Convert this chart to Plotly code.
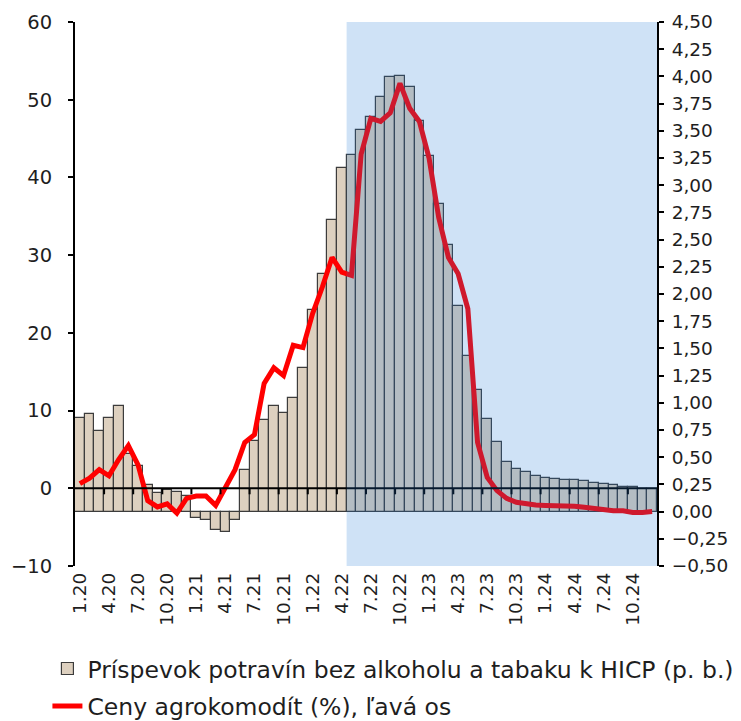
import plotly.graph_objects as go

# Months Jan 2020 .. Dec 2024
months = [f"{m}.{y}" for y in range(20, 25) for m in range(1, 13)]
tick_labels = months[::3]

# Contribution of food (excl. alcohol & tobacco) to HICP, p.p. (right axis)
food_contrib = [
    0.86, 0.90, 0.74, 0.86, 0.97, 0.53, 0.42, 0.24, 0.17, 0.20,
    0.18, 0.14, -0.06, -0.08, -0.17, -0.19, -0.08, 0.38, 0.65, 0.84,
    0.97, 0.91, 1.04, 1.32, 1.85, 2.18, 2.68, 3.16, 3.28, 3.51,
    3.63, 3.81, 3.99, 4.00, 3.90, 3.59, 3.27, 2.83, 2.45, 1.89,
    1.43, 1.12, 0.85, 0.64, 0.46, 0.39, 0.36, 0.33, 0.31, 0.30,
    0.29, 0.29, 0.28, 0.26, 0.25, 0.24, 0.23, 0.23, 0.21, 0.21,
]

# Agricultural commodity prices, % (left axis)
agro_prices = [
    0.6, 1.3, 2.4, 1.6, 3.7, 5.5, 3.0, -1.6, -2.4, -2.0,
    -3.2, -1.3, -1.0, -1.0, -2.2, 0.2, 2.4, 5.9, 6.9, 13.5,
    15.5, 14.5, 18.4, 18.1, 22.5, 25.9, 29.7, 27.8, 27.4, 43.0,
    47.6, 47.2, 48.3, 52.1, 48.9, 47.2, 42.5, 34.8, 29.7, 27.6,
    23.1, 5.9, 1.4, -0.3, -1.3, -1.8, -2.0, -2.15, -2.2, -2.2,
    -2.2, -2.3, -2.45, -2.65, -2.8, -2.9, -2.9, -3.1, -3.1, -3.0,
]

# Highlighted period starts with May 2022
highlight_start = "5.22"

right_ticks = [x / 4 for x in range(-2, 19)]

font_family = "DejaVu Sans"
text_color = "#1e1e1e"
n = len(months)

fig = go.Figure()

fig.add_trace(go.Bar(
    x=months, y=food_contrib, yaxis="y",
    name="Príspevok potravín bez alkoholu a tabaku k HICP (p. b.)",
    marker=dict(color="rgb(221,208,191)", line=dict(color="#3c3c3c", width=1.2)),
    legendgroup="a",
))

fig.add_trace(go.Scatter(
    x=months, y=agro_prices, yaxis="y2", mode="lines",
    name="Ceny agrokomodít (%), ľavá os",
    line=dict(color="#ff0000", width=5),
    legendgroup="b",
))

# zero line of the left axis, drawn over the bars
fig.add_shape(
    type="line", xref="paper", yref="y2", x0=0, x1=1, y0=0, y1=0,
    line=dict(color="black", width=2), layer="above",
)
# quarterly tick marks on the zero line, between categories
for k in range(3, n, 3):
    fig.add_shape(
        type="line", xref="x", yref="y2", ysizemode="pixel", yanchor=0,
        x0=k - 0.5, x1=k - 0.5, y0=0, y1=-6,
        line=dict(color="black", width=2), layer="above",
    )

hl = months.index(highlight_start)
fig.add_shape(
    type="rect", xref="x", yref="paper",
    x0=hl - 0.5, x1=n - 0.5, y0=0, y1=1,
    fillcolor="rgba(28,119,214,0.21)", line=dict(width=0), layer="above",
)

fig.update_layout(
    width=741, height=721,
    margin=dict(l=75, r=84, t=22, b=155, autoexpand=False),
    paper_bgcolor="white", plot_bgcolor="white",
    separators=", ",
    bargap=0,
    font=dict(family=font_family, size=19, color=text_color),
    showlegend=True,
    legend=dict(
        xref="container", yref="container",
        x=0.064, y=0.103, xanchor="left", yanchor="top",
        orientation="v", traceorder="grouped", tracegroupgap=4,
        font=dict(family=font_family, size=23.5, color=text_color),
        bgcolor="rgba(0,0,0,0)",
    ),
    xaxis=dict(
        type="category", range=[-0.5, n - 0.5],
        tickmode="array", tickvals=tick_labels, ticktext=tick_labels,
        tickangle=-90, ticks="", showline=False, showgrid=False,
        zeroline=False, tickfont=dict(size=18.5), automargin=False,
        ticklabelstandoff=2,
    ),
    yaxis=dict(
        side="right", range=[-0.5, 4.5],
        tickmode="array", tickvals=right_ticks, tickformat=".2f",
        showline=True, linecolor="black", linewidth=2,
        ticks="outside", ticklen=5, tickwidth=1.5, tickcolor="black",
        showgrid=False, zeroline=False, tickfont=dict(size=18.5),
        automargin=False, ticklabelstandoff=4,
    ),
    yaxis2=dict(
        overlaying="y", side="left", range=[-10, 60], dtick=10, tick0=0,
        showline=True, linecolor="black", linewidth=2,
        ticks="outside", ticklen=5, tickwidth=1.5, tickcolor="black",
        showgrid=False, zeroline=False, tickfont=dict(size=19.5),
        ticklabelstandoff=12, automargin=False,
    ),
)

fig.write_html("out.html")
